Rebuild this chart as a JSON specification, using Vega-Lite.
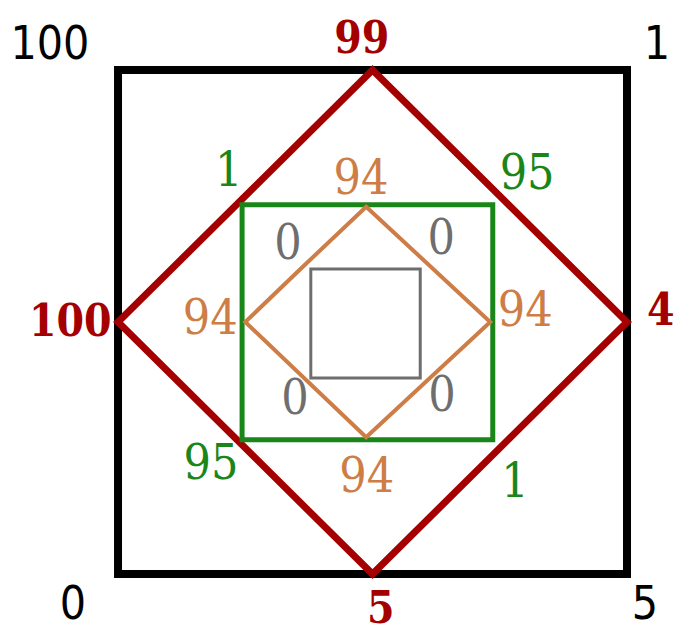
{
  "$schema": "https://vega.github.io/schema/vega-lite/v6.json",
  "width": 676,
  "height": 634,
  "autosize": "none",
  "padding": 0,
  "background": "white",
  "config": {"view": {"stroke": null}},
  "datasets": {
    "shapes": [
      {"shape": "outer", "i": 0, "x": 4, "y": 0},
      {"shape": "outer", "i": 1, "x": 8, "y": 0},
      {"shape": "outer", "i": 2, "x": 8, "y": 8},
      {"shape": "outer", "i": 3, "x": 0, "y": 8},
      {"shape": "outer", "i": 4, "x": 0, "y": 0},
      {"shape": "outer", "i": 5, "x": 4, "y": 0},
      {"shape": "red", "i": 0, "x": 2, "y": 6},
      {"shape": "red", "i": 1, "x": 4, "y": 8},
      {"shape": "red", "i": 2, "x": 8, "y": 4},
      {"shape": "red", "i": 3, "x": 4, "y": 0},
      {"shape": "red", "i": 4, "x": 0, "y": 4},
      {"shape": "red", "i": 5, "x": 2, "y": 6},
      {"shape": "green", "i": 0, "x": 3.9, "y": 2.13},
      {"shape": "green", "i": 1, "x": 5.89, "y": 2.13},
      {"shape": "green", "i": 2, "x": 5.89, "y": 5.86},
      {"shape": "green", "i": 3, "x": 1.95, "y": 5.86},
      {"shape": "green", "i": 4, "x": 1.95, "y": 2.13},
      {"shape": "green", "i": 5, "x": 3.9, "y": 2.13},
      {"shape": "orange", "i": 0, "x": 2.95, "y": 4.92},
      {"shape": "orange", "i": 1, "x": 3.9, "y": 5.83},
      {"shape": "orange", "i": 2, "x": 5.85, "y": 4.0},
      {"shape": "orange", "i": 3, "x": 3.9, "y": 2.17},
      {"shape": "orange", "i": 4, "x": 2.0, "y": 4.0},
      {"shape": "orange", "i": 5, "x": 2.95, "y": 4.92},
      {"shape": "gray", "i": 0, "x": 3.9, "y": 3.11},
      {"shape": "gray", "i": 1, "x": 4.75, "y": 3.11},
      {"shape": "gray", "i": 2, "x": 4.75, "y": 4.84},
      {"shape": "gray", "i": 3, "x": 3.03, "y": 4.84},
      {"shape": "gray", "i": 4, "x": 3.03, "y": 3.11},
      {"shape": "gray", "i": 5, "x": 3.9, "y": 3.11}
    ],
    "labels": [
      {"group": "outer", "label": "100", "x": -1.07, "y": 8.4},
      {"group": "outer", "label": "1", "x": 8.47, "y": 8.4},
      {"group": "outer", "label": "0", "x": -0.71, "y": -0.49},
      {"group": "outer", "label": "5", "x": 8.28, "y": -0.49},
      {"group": "red", "label": "99", "x": 3.83, "y": 8.48},
      {"group": "red", "label": "4", "x": 8.53, "y": 4.16},
      {"group": "red", "label": "5", "x": 4.13, "y": -0.57},
      {"group": "red", "label": "100", "x": -0.75, "y": 3.98},
      {"group": "green", "label": "1", "x": 1.74, "y": 6.38},
      {"group": "green", "label": "95", "x": 6.43, "y": 6.33},
      {"group": "green", "label": "95", "x": 1.46, "y": 1.73},
      {"group": "green", "label": "1", "x": 6.24, "y": 1.44},
      {"group": "orange", "label": "94", "x": 3.82, "y": 6.25},
      {"group": "orange", "label": "94", "x": 6.4, "y": 4.16},
      {"group": "orange", "label": "94", "x": 3.91, "y": 1.52},
      {"group": "orange", "label": "94", "x": 1.45, "y": 4.03},
      {"group": "gray", "label": "0", "x": 2.67, "y": 5.22},
      {"group": "gray", "label": "0", "x": 5.08, "y": 5.3},
      {"group": "gray", "label": "0", "x": 2.78, "y": 2.76},
      {"group": "gray", "label": "0", "x": 5.09, "y": 2.81}
    ]
  },
  "encoding": {
    "x": {"field": "x", "type": "quantitative", "scale": {"domain": [-1.855, 8.77], "nice": false, "zero": false}, "axis": null},
    "y": {"field": "y", "type": "quantitative", "scale": {"domain": [-0.952, 9.111], "nice": false, "zero": false}, "axis": null},
    "color": {"field": "group", "type": "nominal", "legend": null,
      "scale": {"domain": ["outer", "red", "green", "orange", "gray"], "range": ["#000000", "#a50000", "#1a861a", "#cd7d45", "#6e6e6e"]}}
  },
  "layer": [
    {"data": {"name": "shapes"}, "transform": [{"filter": "datum.shape === 'outer'"}, {"calculate": "datum.shape", "as": "group"}],
      "mark": {"type": "line", "strokeWidth": 8, "strokeJoin": "miter", "strokeCap": "butt"},
      "encoding": {"order": {"field": "i"}}},
    {"data": {"name": "shapes"}, "transform": [{"filter": "datum.shape === 'red'"}, {"calculate": "datum.shape", "as": "group"}],
      "mark": {"type": "line", "strokeWidth": 7, "strokeJoin": "miter", "strokeMiterLimit": 10, "strokeCap": "butt"},
      "encoding": {"order": {"field": "i"}}},
    {"data": {"name": "shapes"}, "transform": [{"filter": "datum.shape === 'green'"}, {"calculate": "datum.shape", "as": "group"}],
      "mark": {"type": "line", "strokeWidth": 5, "strokeJoin": "miter", "strokeCap": "butt"},
      "encoding": {"order": {"field": "i"}}},
    {"data": {"name": "shapes"}, "transform": [{"filter": "datum.shape === 'orange'"}, {"calculate": "datum.shape", "as": "group"}],
      "mark": {"type": "line", "strokeWidth": 4, "strokeJoin": "miter", "strokeMiterLimit": 10, "strokeCap": "butt"},
      "encoding": {"order": {"field": "i"}}},
    {"data": {"name": "shapes"}, "transform": [{"filter": "datum.shape === 'gray'"}, {"calculate": "datum.shape", "as": "group"}],
      "mark": {"type": "line", "strokeWidth": 3, "strokeJoin": "miter", "strokeCap": "butt"},
      "encoding": {"order": {"field": "i"}}},
    {"data": {"name": "labels"}, "transform": [{"filter": "datum.group === 'outer'"}],
      "mark": {"type": "text", "font": "DejaVu Sans Condensed, Roboto, sans-serif", "fontSize": 46, "baseline": "middle", "align": "center"},
      "encoding": {"text": {"field": "label"}}},
    {"data": {"name": "labels"}, "transform": [{"filter": "datum.group === 'red'"}],
      "mark": {"type": "text", "font": "DejaVu Serif Condensed, DejaVu Serif, serif", "fontWeight": "bold", "fontSize": 44, "baseline": "middle", "align": "center"},
      "encoding": {"text": {"field": "label"}}},
    {"data": {"name": "labels"}, "transform": [{"filter": "datum.group !== 'outer' && datum.group !== 'red'"}],
      "mark": {"type": "text", "font": "DejaVu Serif Condensed, DejaVu Serif, serif", "fontSize": 48, "baseline": "middle", "align": "center"},
      "encoding": {"text": {"field": "label"}}}
  ]
}
